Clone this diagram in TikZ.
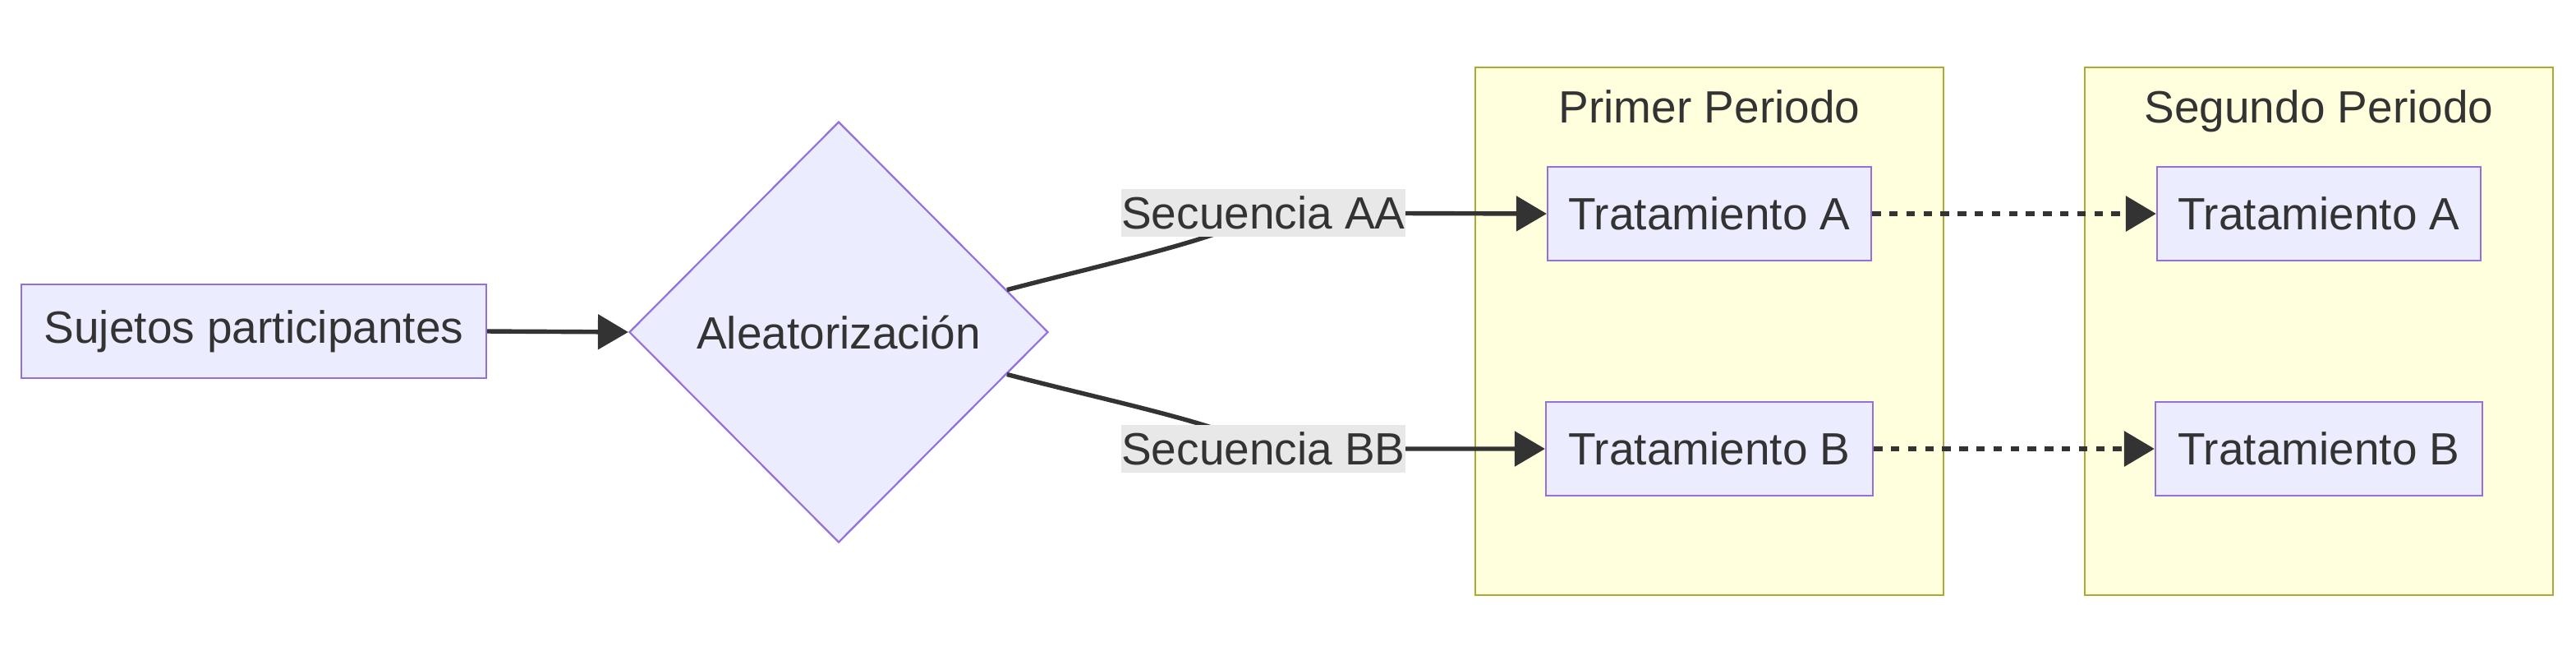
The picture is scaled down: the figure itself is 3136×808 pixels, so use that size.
\documentclass[tikz,border=0pt]{standalone}
\usepackage{fontspec}
\setmainfont{Liberation Sans}
\usetikzlibrary{shapes.geometric,arrows.meta,calc}
\definecolor{nodefill}{HTML}{ECECFF}
\definecolor{nodeborder}{HTML}{9370DB}
\definecolor{clusterfill}{HTML}{FFFFDE}
\definecolor{clusterborder}{HTML}{AAAA33}
\definecolor{ink}{HTML}{333333}
\definecolor{labelbg}{HTML}{E8E8E8}
\tikzset{
  box/.style={draw=nodeborder, fill=nodefill, line width=0.55pt, rectangle, inner sep=0pt, minimum height=28.5pt, text=ink},
  cluster/.style={draw=clusterborder, fill=clusterfill, line width=0.6pt, rectangle, inner sep=0pt, minimum width=142.5pt, minimum height=160.5pt},
  title/.style={text=ink, inner sep=0pt, anchor=base},
  edgelabel/.style={fill=labelbg, text=ink, inner sep=0pt, minimum height=14.5pt},
  link/.style={draw=ink, line width=1.35pt, -{Triangle[length=9.25pt,width=10.5pt]}},
  dotlink/.style={link, line width=1.6pt, dash pattern=on 2.6pt off 2.6pt},
}
\begin{document}
\begin{tikzpicture}[x=0.25pt,y=-0.25pt, every node/.style={font=\fontsize{13.75}{16}\selectfont}]
\useasboundingbox (0,0) rectangle (3136,808);
% clusters
\node[cluster] (P1) at (2081,403) {};
\node[cluster] (P2) at (2823,403) {};
\node[title] (P1t) at (2081,149) {Primer Periodo};
\node[title] (P2t) at (2823,149) {Segundo Periodo};
% nodes
\node[box, minimum width=141.5pt] (S) at (309,403) {Sujetos participantes};
\node[draw=nodeborder, fill=nodefill, line width=0.55pt, diamond, aspect=1, inner sep=0pt, minimum width=127.5pt, minimum height=128pt, text=ink] (D) at (1021,404) {Aleatorización};
\node[box, minimum width=98.5pt] (TA1) at (2081,260) {Tratamiento A};
\node[box, minimum width=99.5pt] (TB1) at (2081,546) {Tratamiento B};
\node[box, minimum width=98.5pt] (TA2) at (2823,260) {Tratamiento A};
\node[box, minimum width=99.5pt] (TB2) at (2823,546) {Tratamiento B};
% edges
\draw[link] (S.east) -- (D.west);
\coordinate (LA) at (1538,259);
\coordinate (LB) at (1538,546);
\draw[link] ($(D.north)!0.8!(D.east)$) .. controls (1350,320) and (1490,290) .. (LA) -- (TA1.west);
\draw[link] ($(D.south)!0.8!(D.east)$) .. controls (1350,488) and (1490,516) .. (LB) -- (TB1.west);
\node[edgelabel] (LAn) at (LA) {Secuencia AA};
\node[edgelabel] (LBn) at (LB) {Secuencia BB};
\draw[dotlink] (TA1.east) -- (TA2.west);
\draw[dotlink] (TB1.east) -- (TB2.west);
\end{tikzpicture}
\end{document}
